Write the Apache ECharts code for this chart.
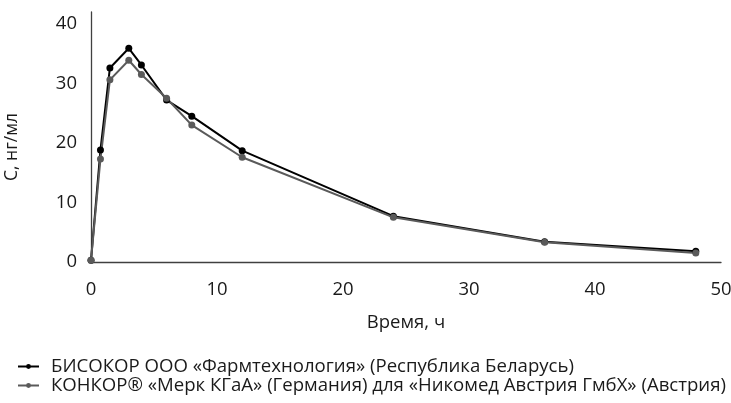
<!DOCTYPE html>
<html>
<head>
<meta charset="utf-8">
<script src="https://cdn.jsdelivr.net/npm/echarts@6/dist/echarts.min.js"></script>
<style>
html,body{margin:0;padding:0;background:#fff;}
#chart{width:731px;height:403px;}
</style>
</head>
<body>
<div id="chart"></div>
<script>
var times = [0, 0.75, 1.5, 3, 4, 6, 8, 12, 24, 36, 48];
var bisocor = [0.3, 18.8, 32.6, 35.9, 33.1, 27.2, 24.5, 18.7, 7.7, 3.4, 1.8];
var concor = [0.3, 17.3, 30.6, 33.9, 31.5, 27.5, 23.0, 17.6, 7.5, 3.3, 1.5];
var seriesNames = [
  'БИСОКОР ООО «Фармтехнология» (Республика Беларусь)',
  'КОНКОР® «Мерк КГаА» (Германия) для «Никомед Австрия ГмбХ» (Австрия)'
];
var xTitle = 'Время, ч';
var yTitle = 'С, нг/мл';

function pairs(xs, ys) { return xs.map(function (x, i) { return [x, ys[i]]; }); }

var FONT = 'Open Sans';
var TXT = '#1a1a1a';
var chart = echarts.init(document.getElementById('chart'), null, {renderer: 'canvas'});
chart.setOption({
  animation: false,
  backgroundColor: '#fff',
  textStyle: {fontFamily: FONT},
  grid: {left: 91, right: 10, top: 12, bottom: 141, containLabel: false, outerBoundsMode: 'none'},
  legend: {
    orient: 'vertical',
    left: 17,
    top: 357,
    padding: 0,
    itemWidth: 21,
    itemHeight: 6,
    itemGap: 0,
    textStyle: {fontFamily: FONT, fontSize: 18.6, lineHeight: 18, color: TXT, padding: [0, 0, 0, 7]},
    data: seriesNames
  },
  xAxis: {
    type: 'value', min: 0, max: 50, interval: 10,
    name: xTitle, nameLocation: 'middle', nameGap: 51,
    nameTextStyle: {fontFamily: FONT, fontSize: 18.5, color: TXT},
    axisLine: {show: true, lineStyle: {color: '#404040', width: 1.3}},
    axisTick: {show: false},
    splitLine: {show: false},
    axisLabel: {fontFamily: FONT, fontSize: 18.5, color: TXT, margin: 18}
  },
  yAxis: {
    type: 'value', min: 0, max: 42, interval: 10,
    name: yTitle, nameLocation: 'middle', nameGap: 70, nameRotate: 90,
    nameTextStyle: {fontFamily: FONT, fontSize: 17.5, color: TXT, padding: [0, 20, 0, 0]},
    axisLine: {show: true, lineStyle: {color: '#404040', width: 1.3}},
    axisTick: {show: false},
    splitLine: {show: false},
    axisLabel: {fontFamily: FONT, fontSize: 18.5, color: TXT, margin: 14, showMaxLabel: false}
  },
  series: [
    {
      name: seriesNames[0], type: 'line', data: pairs(times, bisocor),
      symbol: 'circle', symbolSize: 7,
      itemStyle: {color: '#000000'},
      lineStyle: {color: '#000000', width: 2}
    },
    {
      name: seriesNames[1], type: 'line', data: pairs(times, concor),
      symbol: 'circle', symbolSize: 7,
      itemStyle: {color: '#5a5a5a'},
      lineStyle: {color: '#5a5a5a', width: 2}
    }
  ]
});
</script>
</body>
</html>
